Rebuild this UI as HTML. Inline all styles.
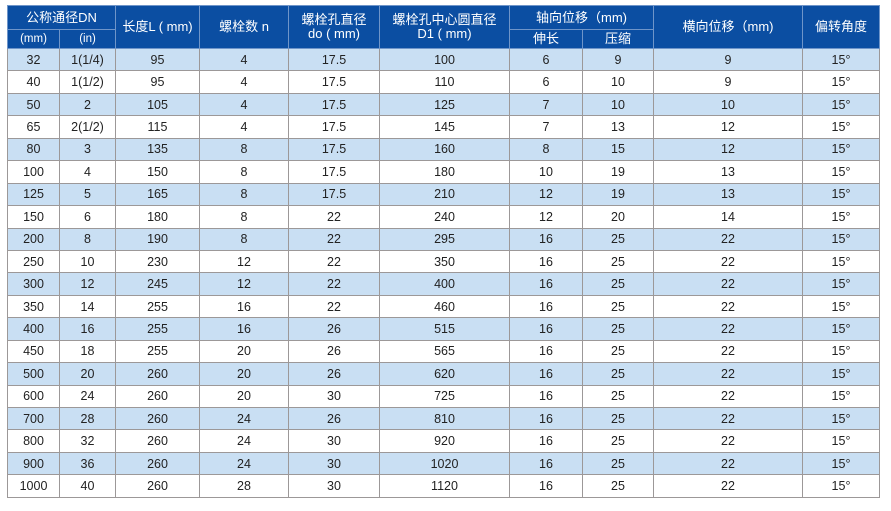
<!DOCTYPE html>
<html><head><meta charset="utf-8"><style>
html,body{margin:0;padding:0;background:#fff;width:891px;height:511px;overflow:hidden}
table{position:absolute;left:7px;top:5px;border-collapse:collapse;table-layout:fixed;font-family:"Liberation Sans","Noto Sans CJK SC",sans-serif;font-size:12.5px;color:#222}
td,th{border:1px solid #9c9898;text-align:center;padding:0;height:21.45px;line-height:14px}
th{background:#0b4ea2;color:#fff;font-weight:normal;border-color:#6f95c9;font-size:13px;height:auto}
th.s{font-size:11.5px}
tr.b td{background:#c9dff3}
</style></head><body>
<table>
<colgroup><col style="width:52px"><col style="width:56px"><col style="width:84px"><col style="width:89px"><col style="width:91px"><col style="width:130px"><col style="width:73px"><col style="width:71px"><col style="width:149px"><col style="width:77px"></colgroup>
<tr style="height:24px"><th colspan="2">公称通径DN</th><th rowspan="2">长度L ( mm)</th><th rowspan="2">螺栓数 n</th><th rowspan="2">螺栓孔直径<br>do ( mm)</th><th rowspan="2">螺栓孔中心圆直径<br>D1 ( mm)</th><th colspan="2">轴向位移（mm)</th><th rowspan="2">横向位移（mm)</th><th rowspan="2">偏转角度</th></tr>
<tr style="height:19px"><th class="s">(mm)</th><th class="s">(in)</th><th>伸长</th><th>压缩</th></tr>
<tr class="b"><td>32</td><td>1(1/4)</td><td>95</td><td>4</td><td>17.5</td><td>100</td><td>6</td><td>9</td><td>9</td><td>15°</td></tr>
<tr><td>40</td><td>1(1/2)</td><td>95</td><td>4</td><td>17.5</td><td>110</td><td>6</td><td>10</td><td>9</td><td>15°</td></tr>
<tr class="b"><td>50</td><td>2</td><td>105</td><td>4</td><td>17.5</td><td>125</td><td>7</td><td>10</td><td>10</td><td>15°</td></tr>
<tr><td>65</td><td>2(1/2)</td><td>115</td><td>4</td><td>17.5</td><td>145</td><td>7</td><td>13</td><td>12</td><td>15°</td></tr>
<tr class="b"><td>80</td><td>3</td><td>135</td><td>8</td><td>17.5</td><td>160</td><td>8</td><td>15</td><td>12</td><td>15°</td></tr>
<tr><td>100</td><td>4</td><td>150</td><td>8</td><td>17.5</td><td>180</td><td>10</td><td>19</td><td>13</td><td>15°</td></tr>
<tr class="b"><td>125</td><td>5</td><td>165</td><td>8</td><td>17.5</td><td>210</td><td>12</td><td>19</td><td>13</td><td>15°</td></tr>
<tr><td>150</td><td>6</td><td>180</td><td>8</td><td>22</td><td>240</td><td>12</td><td>20</td><td>14</td><td>15°</td></tr>
<tr class="b"><td>200</td><td>8</td><td>190</td><td>8</td><td>22</td><td>295</td><td>16</td><td>25</td><td>22</td><td>15°</td></tr>
<tr><td>250</td><td>10</td><td>230</td><td>12</td><td>22</td><td>350</td><td>16</td><td>25</td><td>22</td><td>15°</td></tr>
<tr class="b"><td>300</td><td>12</td><td>245</td><td>12</td><td>22</td><td>400</td><td>16</td><td>25</td><td>22</td><td>15°</td></tr>
<tr><td>350</td><td>14</td><td>255</td><td>16</td><td>22</td><td>460</td><td>16</td><td>25</td><td>22</td><td>15°</td></tr>
<tr class="b"><td>400</td><td>16</td><td>255</td><td>16</td><td>26</td><td>515</td><td>16</td><td>25</td><td>22</td><td>15°</td></tr>
<tr><td>450</td><td>18</td><td>255</td><td>20</td><td>26</td><td>565</td><td>16</td><td>25</td><td>22</td><td>15°</td></tr>
<tr class="b"><td>500</td><td>20</td><td>260</td><td>20</td><td>26</td><td>620</td><td>16</td><td>25</td><td>22</td><td>15°</td></tr>
<tr><td>600</td><td>24</td><td>260</td><td>20</td><td>30</td><td>725</td><td>16</td><td>25</td><td>22</td><td>15°</td></tr>
<tr class="b"><td>700</td><td>28</td><td>260</td><td>24</td><td>26</td><td>810</td><td>16</td><td>25</td><td>22</td><td>15°</td></tr>
<tr><td>800</td><td>32</td><td>260</td><td>24</td><td>30</td><td>920</td><td>16</td><td>25</td><td>22</td><td>15°</td></tr>
<tr class="b"><td>900</td><td>36</td><td>260</td><td>24</td><td>30</td><td>1020</td><td>16</td><td>25</td><td>22</td><td>15°</td></tr>
<tr><td>1000</td><td>40</td><td>260</td><td>28</td><td>30</td><td>1120</td><td>16</td><td>25</td><td>22</td><td>15°</td></tr>
</table>
</body></html>
